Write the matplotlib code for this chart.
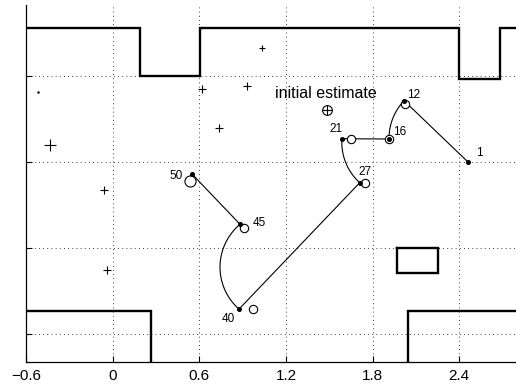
import numpy as np
import matplotlib
matplotlib.use("Agg")
import matplotlib.pyplot as plt

plt.rcParams['font.family'] = ['Liberation Sans', 'DejaVu Sans']

# ---- data ----
xticks = [-0.6, 0, 0.6, 1.2, 1.8, 2.4]
xtick_labels = ['\u22120.6', '0', '0.6', '1.2', '1.8', '2.4']
yticks = [0.0, 0.6, 1.2, 1.8]

# walls (polylines)
wall_top_x = [-0.6, 0.19, 0.19, 0.605, 0.605, 2.40, 2.40, 2.68, 2.68, 2.80]
wall_top_y = [2.135, 2.135, 1.80, 1.80, 2.135, 2.135, 1.78, 1.78, 2.135, 2.135]
wall_bl_x = [-0.6, 0.268, 0.268]
wall_bl_y = [0.163, 0.163, -0.2]
wall_br_x = [2.80, 2.047, 2.047]
wall_br_y = [0.163, 0.163, -0.2]
box_x = [1.969, 2.251, 2.251, 1.969, 1.969]
box_y = [0.598, 0.598, 0.428, 0.428, 0.598]

# landmarks
lm_x = [-0.432, 0.621, 0.933, 0.739, -0.058, 1.034, -0.039]
lm_y = [1.319, 1.71, 1.73, 1.435, 1.007, 1.998, 0.447]
lm_size = [9, 6, 6, 6, 6, 5, 6]

# estimated positions (dots) and true positions (circles) at labelled steps
steps = ['1', '12', '16', '21', '27', '40', '45', '50']
est_x = [2.459, 2.018, 1.914, 1.588, 1.711, 0.875, 0.882, 0.552]
est_y = [1.202, 1.628, 1.361, 1.363, 1.056, 0.174, 0.766, 1.114]
true_x = [None, 2.022, 1.914, 1.649, 1.746, 0.974, 0.910, 0.536]
true_y = [None, 1.605, 1.361, 1.361, 1.054, 0.174, 0.743, 1.068]
true_size = [0, 6, 6, 6, 6, 6, 6, 8]
# path segment between consecutive steps: sagitta (0 = straight)
seg_sagitta = [0.0, -0.028, 0.0, -0.038, 0.0, 0.135, 0.0]
label_off = [(6, 6), (7, 4), (8, 5), (-4, 7), (4, 8), (-8, -7), (14, 1), (-12, -1)]
label_ha = ['left', 'center', 'center', 'center', 'center', 'center', 'center', 'center']

init_x, init_y = 1.484, 1.561

fig = plt.figure(figsize=(5.16, 3.85), dpi=100)
ax = fig.add_axes([26/516, 23/385, 1 - 26/516, 357/385])
ax.set_xlim(-0.6, 2.793)
ax.set_ylim(-0.195, 2.296)

for s in ['top', 'right']:
    ax.spines[s].set_visible(False)
for s in ['left', 'bottom']:
    ax.spines[s].set_linewidth(0.9)

ax.set_xticks(xticks)
ax.set_xticklabels(xtick_labels, fontsize=11)
ax.set_yticks(yticks)
ax.tick_params(axis='both', direction='in', length=4, width=0.8, labelleft=False, pad=5)
ax.grid(True, color='black', linestyle=(0, (1, 4)), linewidth=0.6)

wl = 1.7
ax.plot(wall_top_x, wall_top_y, color='black', lw=wl, solid_joinstyle='miter', clip_on=True)
ax.plot(wall_bl_x, wall_bl_y, color='black', lw=wl, solid_joinstyle='miter')
ax.plot(wall_br_x, wall_br_y, color='black', lw=wl, solid_joinstyle='miter')
ax.plot(box_x, box_y, color='black', lw=wl, solid_joinstyle='miter')

for x, y, ms in zip(lm_x, lm_y, lm_size):
    ax.plot(x, y, marker='+', color='black', ms=ms, mew=0.8)
ax.plot(-0.519, 1.69, marker='.', color='black', ms=1.5)


def arc_points(p0, p1, sag, n=60):
    p0 = np.asarray(p0, float)
    p1 = np.asarray(p1, float)
    if sag == 0:
        return np.vstack([p0, p1])
    d = p1 - p0
    L = np.hypot(*d)
    nrm = np.array([-d[1], d[0]]) / L
    mid = (p0 + p1) / 2
    h = L / 2
    R = (h**2 + sag**2) / (2 * abs(sag))
    c = mid - np.sign(sag) * nrm * (R - abs(sag))
    a0 = np.arctan2(*(p0 - c)[::-1])
    a1 = np.arctan2(*(p1 - c)[::-1])
    da = (a1 - a0 + np.pi) % (2 * np.pi) - np.pi
    t = np.linspace(a0, a0 + da, n)
    return np.column_stack([c[0] + R * np.cos(t), c[1] + R * np.sin(t)])


for i, sag in enumerate(seg_sagitta):
    pts = arc_points((est_x[i], est_y[i]), (est_x[i+1], est_y[i+1]), sag)
    ax.plot(pts[:, 0], pts[:, 1], color='black', lw=0.8)

for i in range(len(steps)):
    if true_x[i] is not None:
        ax.plot(true_x[i], true_y[i], marker='o', mfc='white', mec='black',
                ms=true_size[i], mew=0.8, zorder=4)
    ax.plot(est_x[i], est_y[i], marker='o', color='black', ms=2.6, zorder=5)
    ax.annotate(steps[i], (est_x[i], est_y[i]), xytext=label_off[i],
                textcoords='offset points', ha=label_ha[i], va='center', fontsize=8.5)

ax.plot(init_x, init_y, marker='o', mfc='none', mec='black', ms=7, mew=0.8)
ax.plot(init_x, init_y, marker='+', color='black', ms=7, mew=0.8)
ax.text(init_x - 0.01, init_y + 0.115, 'initial estimate', ha='center', va='center', fontsize=11.5)

fig.savefig('out.png', dpi=100)
